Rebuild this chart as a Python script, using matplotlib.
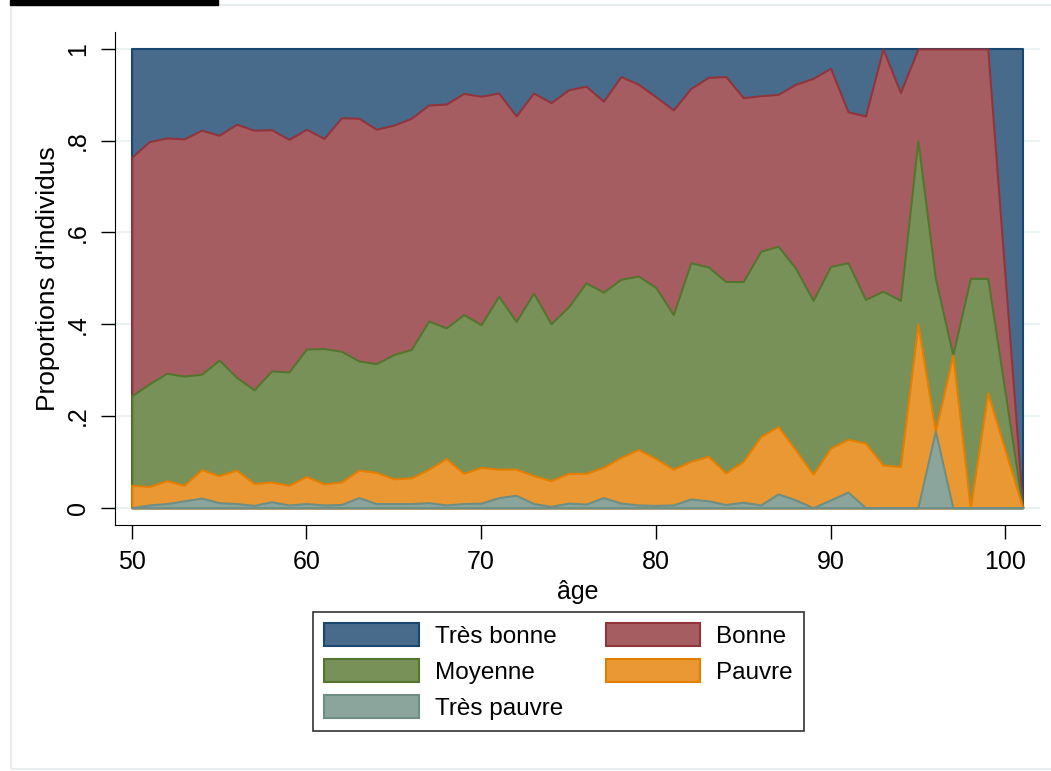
import numpy as np
import matplotlib
matplotlib.use("Agg")
import matplotlib.pyplot as plt
from matplotlib.patches import Rectangle

plt.rcParams['font.family'] = ['Liberation Sans', 'DejaVu Sans']

# ages (no observation at 100)
ages = list(range(50, 100)) + [101]

tres_pauvre = [0, .006, .009, .015, .021, .011, .009, .005, .013, .006,
               .009, .006, .007, .022, .009, .009, .009, .011, .006, .009,
               .010, .022, .027, .009, .003, .010, .008, .022, .010, .006,
               .005, .006, .019, .015, .007, .012, .006, .030, .017, 0,
               .017, .034, 0, 0, 0, 0, .167, 0, 0, 0, 0]
pauvre = [.049, .040, .050, .034, .062, .059, .073, .048, .043, .043,
          .059, .046, .049, .060, .068, .054, .056, .073, .101, .066,
          .078, .062, .057, .061, .056, .065, .067, .066, .100, .121,
          .102, .078, .082, .097, .069, .089, .149, .147, .109, .073,
          .113, .115, .141, .093, .090, .400, 0, .333, 0, .250, 0]
moyenne = [.195, .224, .234, .238, .208, .252, .202, .204, .242, .247,
           .278, .295, .285, .238, .237, .271, .280, .323, .285, .346,
           .311, .377, .322, .398, .342, .363, .415, .382, .388, .378,
           .373, .337, .433, .413, .417, .392, .404, .393, .396, .379,
           .396, .385, .313, .379, .362, .400, .333, 0, .500, .250, 0]
bonne = [.520, .528, .513, .517, .532, .490, .552, .566, .526, .507,
         .479, .458, .509, .529, .511, .500, .504, .471, .488, .482,
         .498, .443, .448, .436, .482, .473, .429, .416, .442, .418,
         .416, .446, .380, .413, .447, .401, .339, .331, .401, .484,
         .432, .329, .400, .528, .453, .200, .500, .667, .500, .500, 0]
tres_bonne = [.236, .202, .194, .196, .177, .188, .164, .177, .176, .197,
              .175, .195, .150, .151, .175, .166, .151, .122, .120, .097,
              .103, .096, .146, .096, .117, .089, .081, .114, .060, .077,
              .104, .133, .086, .062, .060, .106, .102, .099, .077, .064,
              .042, .137, .146, 0, .095, 0, 0, 0, 0, 0, 1]

labels = ["Très bonne", "Bonne", "Moyenne", "Pauvre", "Très pauvre"]
edges = ["#1a476f", "#90353b", "#55752f", "#e37e00", "#6e8e84"]
fills = ["#486b8c", "#a65d62", "#779158", "#e99833", "#8ba59d"]

# cumulative tops, from the bottom category upward
stack = np.array([tres_pauvre, pauvre, moyenne, bonne, tres_bonne])
cum = np.cumsum(stack, axis=0)
tops = [cum[4], cum[3], cum[2], cum[1], cum[0]]

fig = plt.figure(figsize=(10.51, 7.71), dpi=100)
W, H = 1051, 771
ax = fig.add_axes([115 / W, 1 - 525 / H, (1040 - 115) / W, (525 - 32) / H])

handles = []
for top, fc, ec, lab in zip(tops, fills, edges, labels):
    h = ax.fill_between(ages, 0, top, facecolor=fc, edgecolor=ec,
                        linewidth=1.5, label=lab, zorder=2)
    handles.append(h)

ax.set_xlim(49.04, 101.99)
ax.set_ylim(-0.0377, 1.037)
ax.set_xticks([50, 60, 70, 80, 90, 100])
ax.set_yticks([0, .2, .4, .6, .8, 1])
ax.set_yticklabels(["0", ".2", ".4", ".6", ".8", "1"], rotation=90, va='center')
ax.tick_params(axis='both', labelsize=18, length=10, width=1, pad=8)
ax.grid(axis='y', color='#eaf2f3', linewidth=1.5, zorder=0)
ax.set_axisbelow(True)
for s in ['top', 'right']:
    ax.spines[s].set_visible(False)
ax.set_ylabel("Proportions d'individus", fontsize=19, labelpad=4)
ax.set_xlabel("âge", fontsize=18, labelpad=4)

order = [0, 2, 4, 1, 3]
leg = fig.legend([handles[i] for i in order], [labels[i] for i in order],
                 ncol=2, loc='upper center',
                 bbox_to_anchor=(558.5 / W, 1 - 612 / H),
                 fontsize=17.5, frameon=True, fancybox=False,
                 edgecolor='black', handlelength=3.9, handleheight=1.1,
                 handletextpad=0.65, columnspacing=1.75, labelspacing=0.45,
                 borderpad=0.45, borderaxespad=0)
leg.get_frame().set_linewidth(1.2)

# light outer frame and cut-off title underline from the source page
fig.patches.append(Rectangle((11 / W, 1 - 769 / H), 1.2, (769 - 5) / H,
                             transform=fig.transFigure, fill=False,
                             edgecolor='#e8eef0', linewidth=1.5))
fig.patches.append(Rectangle((10 / W, 1 - 4.5 / H), 208 / W, 4.5 / H,
                             transform=fig.transFigure, color='black'))

plt.savefig("out.png", dpi=100)
